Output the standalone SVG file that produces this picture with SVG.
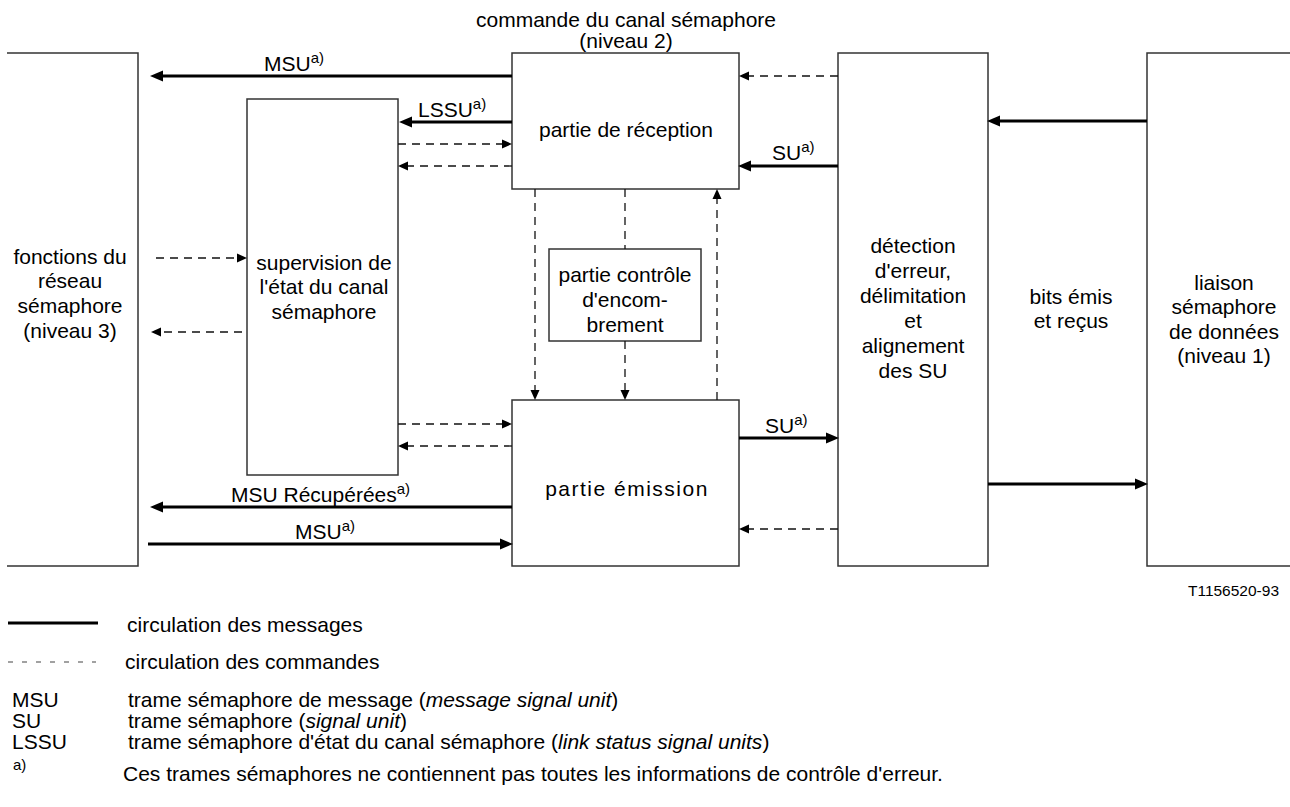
<svg xmlns="http://www.w3.org/2000/svg" width="1290" height="807" viewBox="0 0 1290 807">
<style>
text{font-family:"Liberation Sans",Arial,sans-serif;font-size:21px;fill:#000}
.c{text-anchor:middle}
.sup{font-size:15px}
.box{fill:none;stroke:#333;stroke-width:1.5}
.sol{fill:none;stroke:#000;stroke-width:3.2}
.das{fill:none;stroke:#111;stroke-width:1.3;stroke-dasharray:8 6}
.ms{marker-end:url(#as)}
.md{marker-end:url(#ad)}
</style>
<defs>
<marker id="as" markerWidth="13" markerHeight="12" refX="6" refY="6" orient="auto" markerUnits="userSpaceOnUse"><path d="M0,0.5 L13,6 L0,11.5 z" fill="#000"/></marker>
<marker id="ad" markerWidth="10" markerHeight="10" refX="5" refY="5" orient="auto" markerUnits="userSpaceOnUse"><path d="M0,0.5 L10,5 L0,9.5 z" fill="#000"/></marker>
</defs>

<text class="c" x="626" y="27">commande du canal sémaphore</text>
<text class="c" x="626" y="48">(niveau 2)</text>

<g id="fonctions">
<path class="box" d="M7,53 H138 V566 H7"/>
<text class="c" x="70" y="264">fonctions du</text>
<text class="c" x="70" y="288">réseau</text>
<text class="c" x="70" y="313">sémaphore</text>
<text class="c" x="70" y="338">(niveau 3)</text>
</g>

<g id="supervision">
<rect class="box" x="247" y="99" width="151" height="376"/>
<text class="c" x="324" y="270">supervision de</text>
<text class="c" x="324" y="294">l'état du canal</text>
<text class="c" x="324" y="319">sémaphore</text>
</g>

<g id="reception">
<rect class="box" x="512" y="53" width="227" height="136"/>
<text class="c" x="626" y="137">partie de réception</text>
</g>

<g id="controle">
<rect class="box" x="549" y="249" width="152" height="92"/>
<text class="c" x="625" y="282">partie contrôle</text>
<text class="c" x="625" y="307">d'encom-</text>
<text class="c" x="625" y="332">brement</text>
</g>

<g id="emission">
<rect class="box" x="512" y="400" width="227" height="166"/>
<text class="c" x="627" y="496" letter-spacing="1.5">partie émission</text>
</g>

<g id="detection">
<rect class="box" x="838" y="53" width="150" height="513"/>
<text class="c" x="913" y="253">détection</text>
<text class="c" x="913" y="278">d'erreur,</text>
<text class="c" x="913" y="303">délimitation</text>
<text class="c" x="913" y="328">et</text>
<text class="c" x="913" y="353">alignement</text>
<text class="c" x="913" y="378">des SU</text>
</g>

<g id="liaison">
<path class="box" d="M1290,53 H1147 V566 H1290"/>
<text class="c" x="1224" y="290">liaison</text>
<text class="c" x="1224" y="314">sémaphore</text>
<text class="c" x="1224" y="339">de données</text>
<text class="c" x="1224" y="363">(niveau 1)</text>
</g>

<g id="connectors">
<path class="sol ms" d="M512,76 H157"/>
<path class="sol ms" d="M512,122 H406"/>
<path class="sol ms" d="M838,166 H745"/>
<path class="sol ms" d="M1147,121 H994"/>
<path class="sol ms" d="M988,484 H1141"/>
<path class="sol ms" d="M739,438 H832"/>
<path class="sol ms" d="M512,507 H157"/>
<path class="sol ms" d="M148,544 H506"/>

<path class="das md" d="M838,76 H744"/>
<path class="das md" d="M398,144 H507"/>
<path class="das md" d="M512,166 H403"/>
<path class="das md" d="M156,258 H242"/>
<path class="das md" d="M242,332 H156"/>
<path class="das md" d="M535,189 V395"/>
<path class="das" d="M625,189 V249"/>
<path class="das md" d="M625,341 V395"/>
<path class="das md" d="M717,400 V194"/>
<path class="das md" d="M398,424 H507"/>
<path class="das md" d="M512,446 H403"/>
<path class="das md" d="M838,529 H744"/>

<text x="264" y="71">MSU<tspan class="sup" dy="-8">a)</tspan></text>
<text x="418" y="117">LSSU<tspan class="sup" dy="-8">a)</tspan></text>
<text x="772" y="160">SU<tspan class="sup" dy="-8">a)</tspan></text>
<text x="765" y="433">SU<tspan class="sup" dy="-8">a)</tspan></text>
<text x="231" y="502">MSU Récupérées<tspan class="sup" dy="-8">a)</tspan></text>
<text x="295" y="539">MSU<tspan class="sup" dy="-8">a)</tspan></text>
<text class="c" x="1071" y="304">bits émis</text>
<text class="c" x="1071" y="328">et reçus</text>
</g>

<text x="1279" y="596" style="font-size:15.5px;text-anchor:end">T1156520-93</text>

<g id="legend">
<path d="M8,623 H98" stroke="#000" stroke-width="3"/>
<path d="M8,662 H96" stroke="#444" stroke-width="1.2" stroke-dasharray="5 9"/>
<text x="127" y="632">circulation des messages</text>
<text x="125" y="669">circulation des commandes</text>
<text x="12" y="707">MSU</text>
<text x="128" y="707">trame sémaphore de message (<tspan font-style="italic">message signal unit</tspan>)</text>
<text x="12" y="728">SU</text>
<text x="128" y="728">trame sémaphore (<tspan font-style="italic">signal unit</tspan>)</text>
<text x="12" y="749">LSSU</text>
<text x="128" y="749">trame sémaphore d'état du canal sémaphore (<tspan font-style="italic">link status signal units</tspan>)</text>
<text x="13" y="770" class="sup">a)</text>
<text x="123" y="781">Ces trames sémaphores ne contiennent pas toutes les informations de contrôle d'erreur.</text>
</g>
</svg>
